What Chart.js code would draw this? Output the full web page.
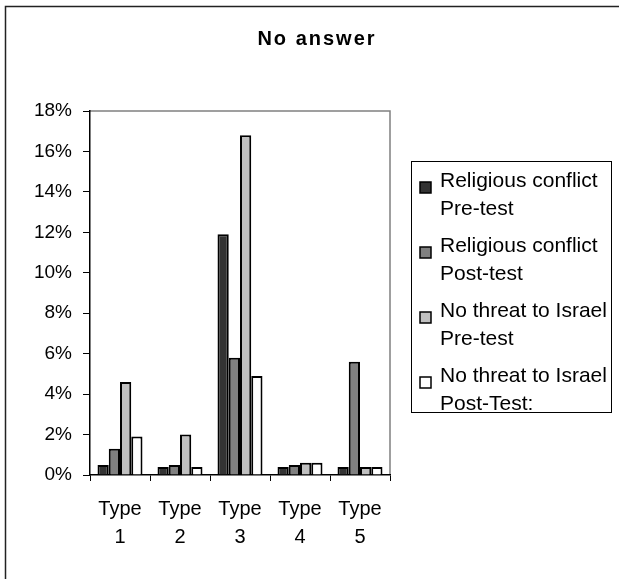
<!DOCTYPE html>
<html>
<head>
<meta charset="utf-8">
<script src="https://cdn.jsdelivr.net/npm/chart.js@4.4.1/dist/chart.umd.min.js"></script>
<style>
  html, body { margin: 0; padding: 0; background: #ffffff; }
  #wrap { width: 619px; height: 579px; position: relative; }
</style>
</head>
<body>
<div id="wrap"><canvas id="chart" width="619" height="579"></canvas></div>
<script>
// Question types on the x axis
const categories = ['Type 1', 'Type 2', 'Type 3', 'Type 4', 'Type 5'];

// Series names (legend shows them on two lines)
const seriesNames = [
  'Religious conflict\nPre-test',
  'Religious conflict\nPost-test',
  'No threat to Israel\nPre-test',
  'No threat to Israel\nPost-Test:'
];

// Share of "no answer" responses, in percent
const religiousPre   = [0.5, 0.4, 11.9, 0.4, 0.4];
const religiousPost  = [1.3, 0.5, 5.8, 0.5, 5.6];
const noThreatPre    = [4.6, 2.0, 16.8, 0.6, 0.4];
const noThreatPost   = [1.9, 0.4, 4.9, 0.6, 0.4];

// Value axis range
const yMin = 0;
const yMax = 18;
const yStep = 2;

const chartTitle = 'No answer';

const fills = ['#333333', '#808080', '#c0c0c0', '#ffffff'];
const seriesValues = [religiousPre, religiousPost, noThreatPre, noThreatPost];
const FONT = '"Liberation Sans", Arial, sans-serif';

const datasets = seriesValues.map((vals, i) => ({
  label: seriesNames[i],
  data: vals,
  backgroundColor: fills[i],
  borderColor: '#000000',
  borderWidth: 2,
  categoryPercentage: 0.75,
  barPercentage: 1.0
}));

// Frame, title, plot border and legend box
const decorations = {
  id: 'decorations',
  beforeDraw(chart) {
    const ctx = chart.ctx;
    ctx.save();
    ctx.fillStyle = '#ffffff';
    ctx.fillRect(0, 0, chart.width, chart.height);
    // outer frame
    ctx.strokeStyle = '#222222';
    ctx.lineWidth = 1.5;
    ctx.beginPath();
    ctx.moveTo(5.5, chart.height + 2);
    ctx.lineTo(5.5, 6.5);
    ctx.lineTo(chart.width + 2, 6.5);
    ctx.stroke();
    // title
    ctx.fillStyle = '#000000';
    ctx.font = 'bold 20px ' + FONT;
    ctx.textAlign = 'center';
    ctx.textBaseline = 'middle';
    try { ctx.letterSpacing = '2px'; } catch (e) {}
    ctx.fillText(chartTitle, 317, 39);
    try { ctx.letterSpacing = '0px'; } catch (e) {}
    // plot area top and right edges
    const a = chart.chartArea;
    ctx.strokeStyle = '#808080';
    ctx.lineWidth = 1.5;
    ctx.beginPath();
    ctx.moveTo(a.left, a.top);
    ctx.lineTo(a.right, a.top);
    ctx.lineTo(a.right, a.bottom);
    ctx.stroke();
    ctx.restore();
  },
  afterDraw(chart) {
    const ctx = chart.ctx;
    ctx.save();
    const box = { x: 411.5, y: 161.5, w: 200, h: 251 };
    ctx.strokeStyle = '#000000';
    ctx.lineWidth = 1;
    ctx.strokeRect(box.x, box.y, box.w, box.h);
    ctx.font = '21px ' + FONT;
    ctx.textAlign = 'left';
    ctx.textBaseline = 'middle';
    chart.data.datasets.forEach((ds, i) => {
      const lines = ds.label.split('\n');
      const y0 = 181 + i * 65;
      ctx.fillStyle = ds.backgroundColor;
      ctx.fillRect(420, y0 + 1, 11, 11);
      ctx.strokeStyle = '#000000';
      ctx.lineWidth = 1.5;
      ctx.strokeRect(420, y0 + 1, 11, 11);
      ctx.fillStyle = '#000000';
      lines.forEach((t, k) => ctx.fillText(t, 440, y0 + k * 28));
    });
    ctx.restore();
  }
};

new Chart(document.getElementById('chart'), {
  type: 'bar',
  data: {
    labels: categories.map(c => c.split(' ')),
    datasets: datasets
  },
  options: {
    responsive: false,
    animation: false,
    layout: { padding: { left: 0, top: 111, right: 229, bottom: 0 } },
    plugins: {
      legend: { display: false },
      title: { display: false },
      tooltip: { enabled: false }
    },
    scales: {
      x: {
        afterFit(s) { s.height = 104; },
        grid: { offset: true, drawOnChartArea: false, tickLength: 6, color: '#000000', lineWidth: 1 },
        border: { color: '#000000', width: 1.5 },
        ticks: {
          color: '#000000',
          font: { family: FONT, size: 20, lineHeight: 1.4 },
          padding: 14,
          maxRotation: 0,
          autoSkip: false
        }
      },
      y: {
        min: yMin,
        max: yMax,
        afterFit(s) { s.width = 90; },
        grid: { drawOnChartArea: false, tickLength: 7, color: '#000000', lineWidth: 1 },
        border: { color: '#000000', width: 1.5 },
        ticks: {
          stepSize: yStep,
          color: '#000000',
          padding: 11,
          font: { family: FONT, size: 19 },
          callback: v => v + '%'
        }
      }
    }
  },
  plugins: [decorations]
});
</script>
</body>
</html>
